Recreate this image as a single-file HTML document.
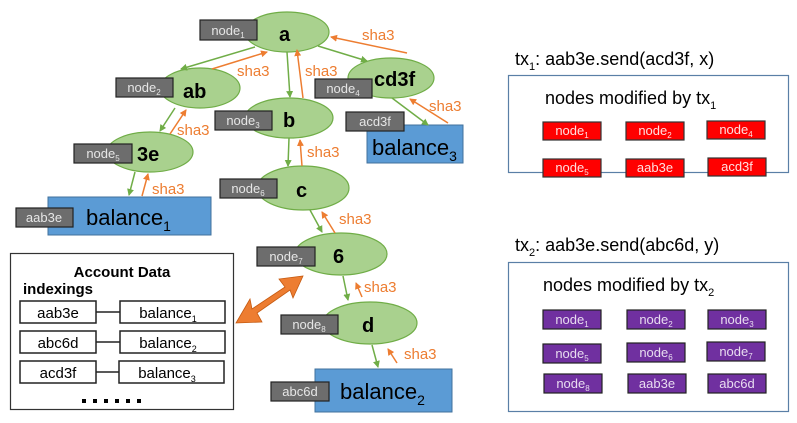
<!DOCTYPE html>
<html><head><style>body{margin:0;background:#fff}svg{display:block}text{font-family:"Liberation Sans",sans-serif}</style></head><body>
<svg width="797" height="423" viewBox="0 0 797 423" xmlns="http://www.w3.org/2000/svg">
<defs>
<marker id="g" markerWidth="7" markerHeight="7" refX="6" refY="3.5" orient="auto" markerUnits="userSpaceOnUse"><path d="M0,0 L7,3.5 L0,7 z" fill="#70ad47"/></marker>
<marker id="o" markerWidth="7" markerHeight="7" refX="6" refY="3.5" orient="auto" markerUnits="userSpaceOnUse"><path d="M0,0 L7,3.5 L0,7 z" fill="#ed7d31"/></marker>
</defs>
<rect x="48" y="197" width="163" height="38" fill="#5b9bd5" stroke="#41719c"/>
<rect x="367" y="125" width="96" height="38" fill="#5b9bd5" stroke="#41719c"/>
<rect x="315" y="369" width="137" height="43" fill="#5b9bd5" stroke="#41719c"/>
<text x="86" y="225" font-size="22">balance<tspan font-size="14" dy="6">1</tspan></text>
<text x="372" y="155" font-size="22">balance<tspan font-size="14" dy="6">3</tspan></text>
<text x="340" y="399" font-size="22">balance<tspan font-size="14" dy="6">2</tspan></text>
<g fill="#a9d18e" stroke="#70ad47" stroke-width="1.2">
<ellipse cx="287" cy="32" rx="42" ry="20"/>
<ellipse cx="200" cy="88" rx="40" ry="20"/>
<ellipse cx="391" cy="78" rx="43" ry="20"/>
<ellipse cx="289" cy="118" rx="44" ry="20"/>
<ellipse cx="150" cy="152" rx="43" ry="20"/>
<ellipse cx="303" cy="188" rx="46" ry="22"/>
<ellipse cx="341" cy="254" rx="46" ry="21"/>
<ellipse cx="370" cy="323" rx="47" ry="21"/>
</g>
<g font-weight="bold" font-size="20" fill="#000">
<text x="279" y="41">a</text>
<text x="183" y="98">ab</text>
<text x="374" y="86">cd3f</text>
<text x="283" y="127">b</text>
<text x="137" y="161">3e</text>
<text x="296" y="197">c</text>
<text x="333" y="263">6</text>
<text x="362" y="332">d</text>
</g>
<g stroke-width="1.5" fill="none">
<g stroke="#70ad47" marker-end="url(#g)">
<line x1="255" y1="47" x2="181" y2="69"/>
<line x1="287" y1="52" x2="290" y2="97"/>
<line x1="318" y1="46" x2="367" y2="61"/>
<line x1="175" y1="108" x2="160" y2="131"/>
<line x1="135" y1="172" x2="129" y2="195"/>
<line x1="289" y1="138" x2="288" y2="166"/>
<line x1="392" y1="98" x2="428" y2="125"/>
<line x1="310" y1="210" x2="322" y2="232"/>
<line x1="343" y1="276" x2="348" y2="300"/>
<line x1="372" y1="345" x2="378" y2="367"/>
</g>
<g stroke="#ed7d31" marker-end="url(#o)">
<line x1="212" y1="69" x2="267" y2="52"/>
<line x1="303" y1="98" x2="297" y2="50"/>
<line x1="407" y1="53" x2="331" y2="37"/>
<line x1="170" y1="134" x2="186" y2="110"/>
<line x1="142" y1="196" x2="148" y2="174"/>
<line x1="302" y1="166" x2="300" y2="140"/>
<line x1="448" y1="123" x2="410" y2="99"/>
<line x1="335" y1="233" x2="322" y2="212"/>
<line x1="362" y1="297" x2="356" y2="283"/>
<line x1="397" y1="363" x2="388" y2="349"/>
</g>
</g>
<g fill="#ed7d31" font-size="15">
<text x="237" y="76">sha3</text>
<text x="305" y="76">sha3</text>
<text x="362" y="40">sha3</text>
<text x="177" y="135">sha3</text>
<text x="152" y="194">sha3</text>
<text x="307" y="157">sha3</text>
<text x="429" y="111">sha3</text>
<text x="339" y="224">sha3</text>
<text x="364" y="292">sha3</text>
<text x="404" y="359">sha3</text>
</g>
<g fill="#6d6d6d" stroke="#222" stroke-width="1.2">
<rect x="200" y="20" width="57" height="20"/>
<rect x="116" y="78" width="57" height="19"/>
<rect x="315" y="79" width="57" height="19"/>
<rect x="215" y="111" width="57" height="19"/>
<rect x="74" y="144" width="58" height="19"/>
<rect x="220" y="179" width="57" height="19"/>
<rect x="346" y="112" width="58" height="19"/>
<rect x="16" y="208" width="57" height="19"/>
<rect x="257" y="247" width="58" height="19"/>
<rect x="281" y="315" width="57" height="19"/>
<rect x="271" y="382" width="58" height="19"/>
</g>
<g fill="#e6e6e6" font-size="13" text-anchor="middle">
<text x="228" y="35">node<tspan font-size="8" dy="3">1</tspan></text>
<text x="144" y="92">node<tspan font-size="8" dy="3">2</tspan></text>
<text x="343" y="93">node<tspan font-size="8" dy="3">4</tspan></text>
<text x="243" y="125">node<tspan font-size="8" dy="3">3</tspan></text>
<text x="103" y="158">node<tspan font-size="8" dy="3">5</tspan></text>
<text x="248" y="193">node<tspan font-size="8" dy="3">6</tspan></text>
<text x="375" y="126">acd3f</text>
<text x="44" y="222">aab3e</text>
<text x="286" y="261">node<tspan font-size="8" dy="3">7</tspan></text>
<text x="309" y="329">node<tspan font-size="8" dy="3">8</tspan></text>
<text x="300" y="396">abc6d</text>
</g>
<rect x="10.5" y="253.5" width="223" height="156" fill="#fff" stroke="#333" stroke-width="1.2"/>
<text x="122" y="277" font-size="15" font-weight="bold" text-anchor="middle">Account Data</text>
<text x="23" y="294" font-size="15" font-weight="bold">indexings</text>
<g fill="#fff" stroke="#222" stroke-width="1.5">
<rect x="20" y="301" width="76" height="22"/><rect x="120" y="301" width="105" height="22"/>
<rect x="20" y="331" width="76" height="22"/><rect x="120" y="331" width="105" height="22"/>
<rect x="20" y="361" width="76" height="22"/><rect x="119" y="361" width="105" height="22"/>
<line x1="96" y1="312" x2="120" y2="312"/><line x1="96" y1="342" x2="120" y2="342"/><line x1="96" y1="372" x2="119" y2="372"/>
</g>
<g font-size="15" text-anchor="middle">
<text x="58" y="318">aab3e</text><text x="168" y="318">balance<tspan font-size="9" dy="4">1</tspan></text>
<text x="58" y="348">abc6d</text><text x="168" y="348">balance<tspan font-size="9" dy="4">2</tspan></text>
<text x="58" y="378">acd3f</text><text x="167" y="378">balance<tspan font-size="9" dy="4">3</tspan></text>
</g>
<g fill="#000">
<rect x="82" y="399" width="4" height="4"/><rect x="93" y="399" width="4" height="4"/><rect x="104" y="399" width="4" height="4"/>
<rect x="115" y="399" width="4" height="4"/><rect x="126" y="399" width="4" height="4"/><rect x="137" y="399" width="4" height="4"/>
</g>
<polygon points="236,323 250,299 252,309 285,287 279,279 303,276 293,298 290,290 257,313 262,322" fill="#ed7d31" stroke="#c55a11" stroke-width="0.8"/>
<text x="515" y="65" font-size="18">tx<tspan font-size="11" dy="5">1</tspan><tspan dy="-5">: aab3e.send(acd3f, x)</tspan></text>
<rect x="508.5" y="75.5" width="280" height="97" fill="none" stroke="#5a7fa6" stroke-width="1.2"/>
<text x="545" y="104" font-size="18">nodes modified by tx<tspan font-size="11" dy="5">1</tspan></text>
<g fill="#ff0000" stroke="#333" stroke-width="1.2">
<rect x="543" y="122" width="58" height="18"/><rect x="626" y="122" width="58" height="18"/><rect x="707" y="121" width="58" height="18"/>
<rect x="543" y="159" width="58" height="18"/><rect x="626" y="159" width="58" height="18"/><rect x="708" y="158" width="58" height="18"/>
</g>
<g fill="#ffe0e0" font-size="13" text-anchor="middle">
<text x="572" y="135">node<tspan font-size="8" dy="3">1</tspan></text>
<text x="655" y="135">node<tspan font-size="8" dy="3">2</tspan></text>
<text x="736" y="134">node<tspan font-size="8" dy="3">4</tspan></text>
<text x="572" y="172">node<tspan font-size="8" dy="3">5</tspan></text>
<text x="655" y="172">aab3e</text>
<text x="737" y="171">acd3f</text>
</g>
<text x="515" y="251" font-size="18">tx<tspan font-size="11" dy="5">2</tspan><tspan dy="-5">: aab3e.send(abc6d, y)</tspan></text>
<rect x="508.5" y="262.5" width="280" height="149" fill="none" stroke="#5a7fa6" stroke-width="1.2"/>
<text x="543" y="291" font-size="18">nodes modified by tx<tspan font-size="11" dy="5">2</tspan></text>
<g fill="#7030a0" stroke="#222" stroke-width="1.2">
<rect x="543" y="310" width="58" height="19"/><rect x="627" y="310" width="58" height="19"/><rect x="708" y="310" width="58" height="19"/>
<rect x="543" y="344" width="58" height="19"/><rect x="627" y="343" width="58" height="19"/><rect x="707" y="342" width="58" height="19"/>
<rect x="544" y="374" width="58" height="19"/><rect x="628" y="374" width="58" height="19"/><rect x="708" y="374" width="58" height="19"/>
</g>
<g fill="#e8dcf0" font-size="13" text-anchor="middle">
<text x="572" y="324">node<tspan font-size="8" dy="3">1</tspan></text>
<text x="656" y="324">node<tspan font-size="8" dy="3">2</tspan></text>
<text x="737" y="324">node<tspan font-size="8" dy="3">3</tspan></text>
<text x="572" y="358">node<tspan font-size="8" dy="3">5</tspan></text>
<text x="656" y="357">node<tspan font-size="8" dy="3">6</tspan></text>
<text x="736" y="356">node<tspan font-size="8" dy="3">7</tspan></text>
<text x="573" y="388">node<tspan font-size="8" dy="3">8</tspan></text>
<text x="657" y="388">aab3e</text>
<text x="737" y="388">abc6d</text>
</g>
</svg>
</body></html>
